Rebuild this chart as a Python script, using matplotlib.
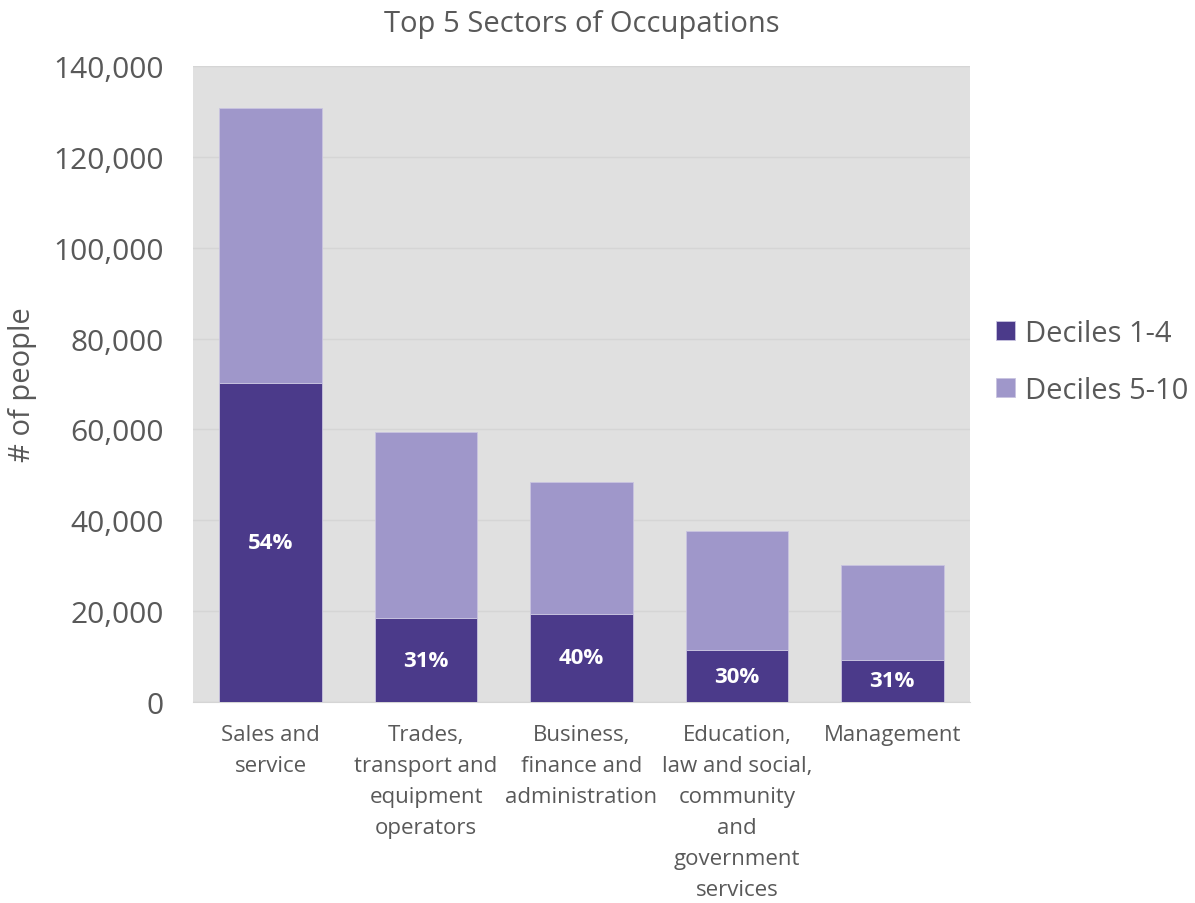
import matplotlib
matplotlib.use('Agg')
import matplotlib.pyplot as plt
import numpy as np

plt.rcParams['font.family'] = ['Open Sans', 'DejaVu Sans']

# dados
setores = ['Sales and\nservice',
           'Trades,\ntransport and\nequipment\noperators',
           'Business,\nfinance and\nadministration',
           'Education,\nlaw and social,\ncommunity\nand\ngovernment\nservices',
           'Management']
decis_1_4 = [70200, 18500, 19400, 11400, 9300]
decis_5_10 = [60500, 40900, 29000, 26200, 20900]
percentuais = ['54%', '31%', '40%', '30%', '31%']

cor_escura = '#4B3A8A'
cor_clara = '#9F97CA'
cor_texto = '#595959'

fig = plt.figure(figsize=(11.95, 9.04), dpi=100)
ax = fig.add_axes([0.1615, 0.2223, 0.6502, 0.7036])
ax.set_facecolor('#E0E0E0')

x = np.arange(len(setores))
b1 = ax.bar(x, decis_1_4, width=0.66, color=cor_escura, edgecolor='#C9C4E0',
            linewidth=0.6, label='Deciles 1-4', zorder=3)
b2 = ax.bar(x, decis_5_10, width=0.66, bottom=decis_1_4, color=cor_clara,
            edgecolor='#C9C4E0', linewidth=0.6, label='Deciles 5-10', zorder=3)

# rotulos de percentagem no meio da parte escura
for i in range(len(x)):
    ax.text(x[i], decis_1_4[i] / 2, percentuais[i], ha='center', va='center',
            color='white', fontsize=16, fontweight='bold', zorder=4)

ax.set_xlim(-0.5, 4.5)
ax.set_ylim(0, 140000)
ax.set_yticks(np.arange(0, 140001, 20000))
ax.set_yticklabels(['{:,}'.format(v) for v in range(0, 140001, 20000)])
ax.yaxis.grid(True, color='#D5D5D5', linewidth=1, zorder=0)
ax.set_xticks(x)
ax.set_xticklabels(setores, fontsize=16, color=cor_texto, linespacing=1.62,
                   va='top')
ax.tick_params(axis='both', length=0)
ax.tick_params(axis='y', labelsize=21.5, labelcolor=cor_texto, pad=21)
ax.tick_params(axis='x', pad=16)
for s in ['top', 'left', 'right']:
    ax.spines[s].set_visible(False)
ax.spines['bottom'].set_color('#D5D5D5')

ax.set_ylabel('# of people', fontsize=21, color=cor_texto, labelpad=12)
ax.set_title('Top 5 Sectors of Occupations', fontsize=21, color=cor_texto, pad=25)

leg = ax.legend(handles=[b1, b2], loc='center left', bbox_to_anchor=(1.0, 0.535),
                frameon=False, fontsize=21, handlelength=0.65, handleheight=0.65,
                labelspacing=0.95, handletextpad=0.35)
for t in leg.get_texts():
    t.set_color(cor_texto)

fig.savefig('out.png', dpi=100)
